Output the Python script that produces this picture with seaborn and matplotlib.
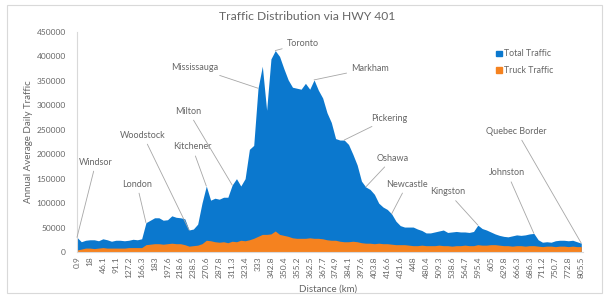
import numpy as np
import matplotlib
matplotlib.use("Agg")
import matplotlib.pyplot as plt
from matplotlib.patches import Patch, Rectangle
import seaborn as sns

# distance labels shown on the x axis (every third point)
tick_labels = ["0.9", "18", "46.1", "91.1", "127.2", "166.3", "183", "197.6", "218.6", "238.5",
               "270.6", "287.8", "311.3", "323.4", "333", "342.8", "350.4", "355.2", "362.5", "367.7",
               "374.9", "384.1", "397.6", "403.8", "416.6", "431.6", "448", "480.4", "509.3", "538.6",
               "564.7", "595.4", "605", "629.8", "666.3", "686.3", "711.2", "750.7", "772.8", "805.5"]

# annual average daily traffic along the highway
total_traffic = [30000, 21000, 24000, 25000, 25000, 23000, 27000, 25000, 22000, 24000,
                 24000, 23000, 24000, 26000, 25000, 27000, 60000, 65000, 70000, 70000,
                 65000, 66000, 74000, 71000, 70000, 68000, 45000, 47000, 57000, 100000,
                 135000, 106000, 110000, 108000, 112000, 112000, 137000, 150000, 135000, 150000,
                 210000, 218000, 335000, 380000, 290000, 395000, 412000, 400000, 375000, 352000,
                 337000, 335000, 333000, 345000, 333000, 352000, 331000, 315000, 285000, 265000,
                 232000, 229000, 229000, 220000, 200000, 178000, 145000, 133000, 128000, 118000,
                 100000, 92000, 87000, 78000, 63000, 54000, 51000, 51000, 51000, 47000,
                 44000, 39000, 39000, 41000, 43000, 45000, 40000, 41000, 42000, 41000,
                 41000, 40000, 42000, 55000, 48000, 45000, 41000, 37000, 34000, 32000,
                 31000, 33000, 35000, 34000, 35000, 37000, 38000, 25000, 20000, 21000,
                 20000, 23000, 24000, 24000, 23000, 24000, 21000, 18000]

truck_traffic = [4000, 6000, 8000, 8000, 7000, 8000, 9000, 8000, 8000, 8000,
                 8000, 8000, 9000, 9000, 9000, 9000, 15000, 16000, 17000, 17000,
                 16000, 17000, 18000, 17000, 17000, 15000, 12000, 13000, 14000, 17000,
                 24000, 23000, 21000, 20000, 21000, 19000, 22000, 21000, 24000, 23000,
                 25000, 28000, 32000, 36000, 36000, 37000, 43000, 36000, 34000, 32000,
                 29000, 28000, 28000, 28000, 29000, 28000, 28000, 27000, 25000, 24000,
                 24000, 22000, 21000, 21000, 22000, 21000, 19000, 18000, 18000, 17000,
                 18000, 17000, 17000, 16000, 15000, 15000, 15000, 14000, 13000, 13000,
                 14000, 13000, 13000, 13000, 14000, 13000, 13000, 12000, 13000, 13000,
                 14000, 13000, 13000, 15000, 14000, 14000, 15000, 15000, 14000, 13000,
                 13000, 12000, 13000, 13000, 12000, 13000, 13000, 12000, 11000, 12000,
                 12000, 11000, 12000, 12000, 11000, 12000, 11000, 11000]

# cities and the point index they are attached to
cities = ["Windsor", "London", "Woodstock", "Kitchener", "Milton", "Mississauga", "Toronto",
          "Markham", "Pickering", "Oshawa", "Newcastle", "Kingston", "Johnston", "Quebec Border"]
city_idx = [0, 16, 26, 30, 36, 42, 46, 55, 62, 67, 73, 93, 106, 117]
# label placement (x index, y value)
label_pos = [(4.4, 184000), (13.9, 139000), (15.3, 239000), (26.7, 215000), (25.8, 288000),
             (27.4, 378000), (52.4, 427000), (68, 376000), (72.4, 274000), (73.3, 192000),
             (76.6, 139000), (86, 123000), (99.8, 162000), (102, 247000)]

blue = "#0B78CE"
orange = "#F5821F"
grey_txt = "#666666"

sns.set_style("white")
plt.rcParams['font.family'] = ['Lato', 'DejaVu Sans']

fig = plt.figure(figsize=(6.06, 3.0), dpi=100)
ax = fig.add_axes([77 / 606, 1 - 252 / 300, 506 / 606, 220 / 300])

x = np.arange(len(total_traffic))
ax.fill_between(x, 0, total_traffic, color=blue, lw=0)
ax.fill_between(x, 0, truck_traffic, color=orange, lw=0)

ax.set_xlim(0, len(total_traffic) - 1 + 0.4)
ax.set_ylim(0, 450000)
ax.set_yticks(np.arange(0, 450001, 50000))
ax.set_yticklabels([str(v) for v in range(0, 450001, 50000)])
ax.set_xticks(np.arange(0, len(total_traffic), 3))
ax.set_xticklabels(tick_labels, rotation=90)
ax.tick_params(axis="both", length=0, labelsize=6, labelcolor=grey_txt)
ax.tick_params(axis="y", pad=8)
ax.tick_params(axis="x", pad=3)

sns.despine(ax=ax)
for s in ["left", "bottom"]:
    ax.spines[s].set_color("#d9d9d9")
    ax.spines[s].set_linewidth(0.8)

ax.set_xlabel("Distance (km)", fontsize=7, color=grey_txt)
ax.xaxis.set_label_coords(0.496, -0.148)
ax.set_ylabel("Annual Average Daily Traffic", fontsize=7, color=grey_txt)
ax.yaxis.set_label_coords(-0.086, 0.5)

for name, i, (tx, ty) in zip(cities, city_idx, label_pos):
    ax.annotate(name, xy=(i, total_traffic[i]), xytext=(tx, ty), textcoords="data",
                ha="center", va="center", fontsize=6.5, color=grey_txt,
                arrowprops=dict(arrowstyle="-", color="#a6a6a6", lw=0.6,
                                shrinkA=1, shrinkB=0))

fig.text(307 / 606, 1 - 16 / 300, "Traffic Distribution via HWY 401",
         ha="center", va="center", fontsize=8.7, color=grey_txt)

handles = [Patch(color=blue, label="Total Traffic"), Patch(color=orange, label="Truck Traffic")]
fig.legend(handles=handles, loc="upper left", bbox_to_anchor=(492 / 606, 1 - 45 / 300),
           frameon=False, fontsize=6.3, labelcolor=grey_txt, handlelength=0.6,
           handleheight=0.6, handletextpad=0.3, labelspacing=0.9, borderpad=0)

fig.patches.append(Rectangle((7 / 606, 7 / 300), 595 / 606, 288 / 300,
                             transform=fig.transFigure, fill=False,
                             edgecolor="#d9d9d9", lw=0.8))

plt.savefig("out.png", dpi=100)
